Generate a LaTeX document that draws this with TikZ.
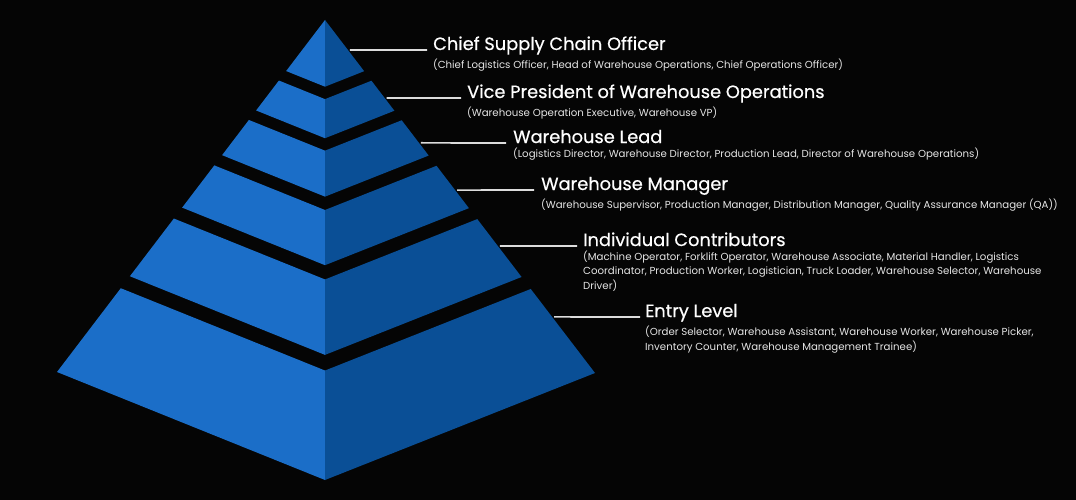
\documentclass[tikz,border=0pt]{standalone}
\usepackage{fontspec}
\setmainfont{Poppins}
\newfontfamily\titlefont[FakeBold=0.5]{Poppins}
\usetikzlibrary{calc,positioning}

\definecolor{bgdark}{RGB}{5,5,5}
\definecolor{faceleft}{RGB}{27,110,200}
\definecolor{faceright}{RGB}{10,79,150}
\definecolor{pointergray}{RGB}{220,220,220}

\begin{document}
\begin{tikzpicture}[
    x=1pt, y=-1pt,
    leftface/.style={fill=faceleft},
    rightface/.style={fill=faceright},
    pointer/.style={draw=pointergray, line width=1.7pt},
    title/.style={
        text=white, inner sep=0pt, anchor=base west,
        font=\titlefont\fontsize{17.8}{20}\selectfont
    },
    sub/.style={
        text=white!90!black, inner sep=0pt, align=left,
        font=\fontsize{10.2}{14.6}\selectfont
    }
]
\fill[bgdark] (0,0) rectangle (1076,500);
\useasboundingbox (0,0) rectangle (1076,500);

\coordinate (apex) at (325,20);
\coordinate (bl) at (57,372);
\coordinate (bf) at (325,480);
\coordinate (br) at (595,373);

% layer 1 (top)
\fill[leftface] (apex) -- ($(apex)!0.145!(bf)$) -- ($(apex)!0.145!(bl)$) -- cycle;
\fill[rightface] (apex) -- ($(apex)!0.145!(br)$) -- ($(apex)!0.145!(bf)$) -- cycle;
% layer 2
\fill[leftface] ($(apex)!0.172!(bl)$) -- ($(apex)!0.172!(bf)$) -- ($(apex)!0.257!(bf)$) -- ($(apex)!0.257!(bl)$) -- cycle;
\fill[rightface] ($(apex)!0.172!(bf)$) -- ($(apex)!0.172!(br)$) -- ($(apex)!0.257!(br)$) -- ($(apex)!0.257!(bf)$) -- cycle;
% layer 3
\fill[leftface] ($(apex)!0.284!(bl)$) -- ($(apex)!0.284!(bf)$) -- ($(apex)!0.384!(bf)$) -- ($(apex)!0.384!(bl)$) -- cycle;
\fill[rightface] ($(apex)!0.284!(bf)$) -- ($(apex)!0.284!(br)$) -- ($(apex)!0.384!(br)$) -- ($(apex)!0.384!(bf)$) -- cycle;
% layer 4
\fill[leftface] ($(apex)!0.413!(bl)$) -- ($(apex)!0.413!(bf)$) -- ($(apex)!0.533!(bf)$) -- ($(apex)!0.533!(bl)$) -- cycle;
\fill[rightface] ($(apex)!0.413!(bf)$) -- ($(apex)!0.413!(br)$) -- ($(apex)!0.533!(br)$) -- ($(apex)!0.533!(bf)$) -- cycle;
% layer 5
\fill[leftface] ($(apex)!0.564!(bl)$) -- ($(apex)!0.564!(bf)$) -- ($(apex)!0.728!(bf)$) -- ($(apex)!0.728!(bl)$) -- cycle;
\fill[rightface] ($(apex)!0.564!(bf)$) -- ($(apex)!0.564!(br)$) -- ($(apex)!0.728!(br)$) -- ($(apex)!0.728!(bf)$) -- cycle;
% layer 6 (base)
\fill[leftface] ($(apex)!0.762!(bl)$) -- ($(apex)!0.762!(bf)$) -- (bf) -- (bl) -- cycle;
\fill[rightface] ($(apex)!0.762!(bf)$) -- ($(apex)!0.762!(br)$) -- (br) -- (bf) -- cycle;

% pointer ends on the right edge
\coordinate (p1) at ($(apex)!0.085!(br)$);
\coordinate (p2) at ($(apex)!0.221!(br)$);
\coordinate (p3) at ($(apex)!0.348!(br)$);
\coordinate (p4) at ($(apex)!0.482!(br)$);
\coordinate (p5) at ($(apex)!0.640!(br)$);
\coordinate (p6) at ($(apex)!0.841!(br)$);

% titles
\node[title] (t1) at (433,50) {Chief Supply Chain Officer};
\node[title] (t2) at (467,98) {Vice President of Warehouse Operations};
\node[title] (t3) at (513,143) {Warehouse Lead};
\node[title] (t4) at (541,190) {Warehouse Manager};
\node[title] (t5) at (583,246) {Individual Contributors};
\node[title] (t6) at (645,317) {Entry Level};

% subtitles
\node[sub, below right=4pt and 0pt of t1.south west] (s1) {(Chief Logistics Officer, Head of Warehouse Operations, Chief Operations Officer)};
\node[sub, below right=4pt and 0pt of t2.south west] (s2) {(Warehouse Operation Executive, Warehouse VP)};
\node[sub, below right=4pt and 0pt of t3.south west] (s3) {(Logistics Director, Warehouse Director, Production Lead, Director of Warehouse Operations)};
\node[sub, below right=4pt and 0pt of t4.south west] (s4) {(Warehouse Supervisor, Production Manager, Distribution Manager, Quality Assurance Manager (QA))};
\node[sub, below right=4pt and 0pt of t5.south west] (s5) {(Machine Operator, Forklift Operator, Warehouse Associate, Material Handler, Logistics\\Coordinator, Production Worker, Logistician, Truck Loader, Warehouse Selector, Warehouse\\Driver)};
\node[sub, below right=4pt and 0pt of t6.south west] (s6) {(Order Selector, Warehouse Assistant, Warehouse Worker, Warehouse Picker,\\Inventory Counter, Warehouse Management Trainee)};

% pointers
\draw[pointer] ([xshift=2pt]p1) -- ([xshift=-6pt]t1.base west);
\draw[pointer] ([xshift=2pt]p2) -- ([xshift=-6pt]t2.base west);
\draw[pointer] ([xshift=2pt]p3) -- ([xshift=-7pt]t3.base west);
\draw[pointer] ([xshift=2pt]p4) -- ([xshift=-7pt]t4.base west);
\draw[pointer] ([xshift=2pt]p5) -- ([xshift=-6pt]t5.base west);
\draw[pointer] ([xshift=2pt]p6) -- ([xshift=-5pt]t6.base west);
\end{tikzpicture}
\end{document}
